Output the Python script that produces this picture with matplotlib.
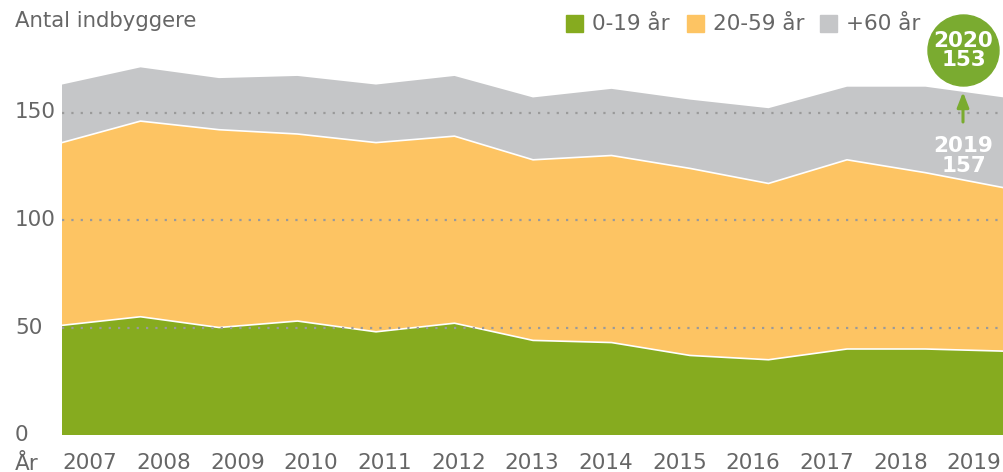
import numpy as np
import matplotlib.pyplot as plt
from matplotlib import transforms
from matplotlib.patches import Circle

years = list(range(2007, 2020))
age_0_19 = [51, 55, 50, 53, 48, 52, 44, 43, 37, 35, 40, 40, 39]
age_20_59 = [85, 91, 92, 87, 88, 87, 84, 87, 87, 82, 88, 82, 76]
age_60 = [27, 25, 24, 27, 27, 28, 29, 31, 32, 35, 34, 40, 42]
series_names = ['0-19 år', '20-59 år', '+60 år']
colors = ['#86ab1f', '#fdc463', '#c5c6c8']
y_ticks = [0, 50, 100, 150]
label_2019 = '2019\n157'
label_2020 = '2020\n153'

txt = '#666666'
fs = 15.5
W, H = 1004, 472
fig = plt.figure(figsize=(W / 100, H / 100), dpi=100)
ax = fig.add_axes([62 / W, (H - 435) / H, 942 / W, 430 / H])
ax.set_xlim(years[0], years[-1])
ax.set_ylim(0, 200)

ax.stackplot(years, age_0_19, age_20_59, age_60, colors=colors, linewidth=0)
c1 = np.array(age_0_19)
c2 = c1 + np.array(age_20_59)
ax.plot(years, c1, color='white', lw=1.2)
ax.plot(years, c2, color='white', lw=1.2)

for v in y_ticks[1:]:
    ax.axhline(v, color='#9a9a9a', lw=1.6, ls=(0, (1, 3.2)), zorder=5)

for s in ax.spines.values():
    s.set_visible(False)
ax.set_yticks([])

# x labels (spaced a bit tighter than the data points, like the original)
pos = np.linspace(years[0] + 28 / 78.5, years[0] + 912 / 78.5, len(years))
ax.set_xticks(pos)
ax.set_xticklabels([str(y) for y in years], fontsize=fs, color=txt)
ax.tick_params(axis='x', length=0, pad=13)

tr = transforms.blended_transform_factory(fig.transFigure, ax.transData)
for v in y_ticks:
    ax.text(15 / W, v, str(v), transform=tr, ha='left', va='center',
            fontsize=fs, color=txt)

fig.text(15 / W, 1 - 464 / H, 'År', ha='left', va='center', fontsize=fs, color=txt)
fig.text(15 / W, 1 - 21 / H, 'Antal indbyggere', ha='left', va='center',
         fontsize=15.3, color=txt)

# legend
lx = [566, 687, 820]
for x, name, c in zip(lx, series_names, colors):
    fig.patches.append(plt.Rectangle((x / W, 1 - 32 / H), 17 / W, 17 / H,
                                     transform=fig.transFigure, color=c))
    fig.text((x + 26) / W, 1 - 23.5 / H, name, ha='left', va='center',
             fontsize=fs, color=txt)

# 2020 bubble
cx, cy = 963.5, 50.5
fig.patches.append(Circle((cx / 100, (H - cy) / 100), 35.5 / 100,
                          transform=fig.dpi_scale_trans, color='#7aab30'))
fig.text(cx / W, 1 - cy / H, label_2020, ha='center', va='center', fontsize=15.5,
         color='white', fontweight='bold', linespacing=0.92)
ax.annotate('', xy=(963 / W, 1 - 92 / H), xytext=(963 / W, 1 - 122 / H),
            xycoords='figure fraction', textcoords='figure fraction',
            arrowprops=dict(arrowstyle='-|>,head_width=0.35,head_length=0.9',
                            color='#7aab30', lw=2.2, shrinkA=0, shrinkB=0))
fig.text(cx / W, 1 - 156 / H, label_2019, ha='center', va='center', fontsize=15.5,
         color='white', fontweight='bold', linespacing=0.98)

fig.savefig('out.png', dpi=100)
